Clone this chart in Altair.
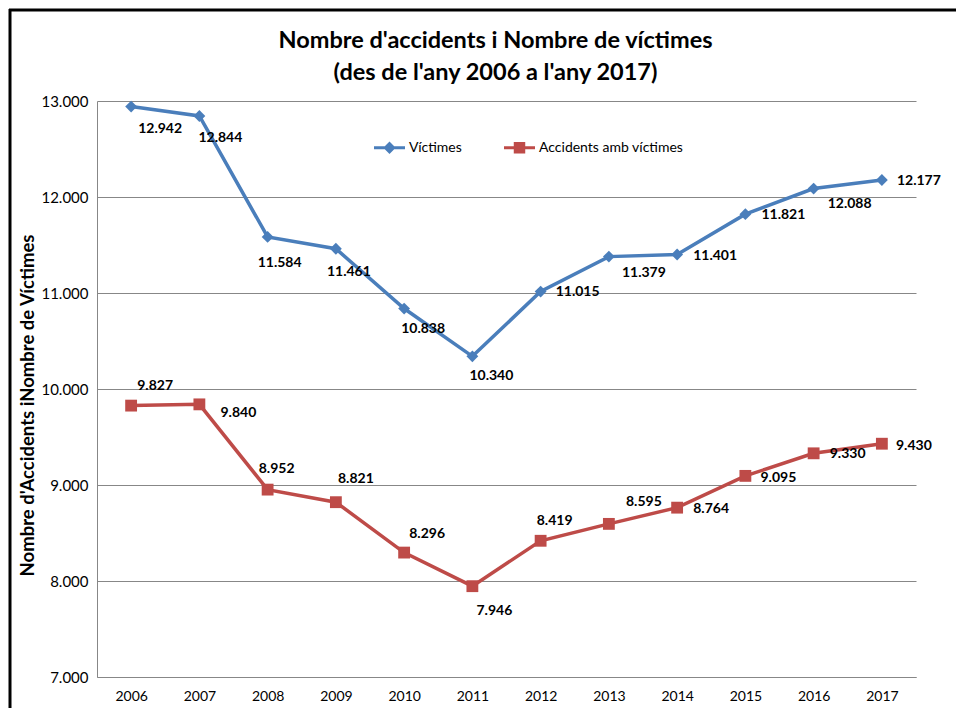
import altair as alt
import pandas as pd

# ---- data ----
anys = ["2006", "2007", "2008", "2009", "2010", "2011",
        "2012", "2013", "2014", "2015", "2016", "2017"]
victimes = [12942, 12844, 11584, 11461, 10838, 10340,
            11015, 11379, 11401, 11821, 12088, 12177]
accidents = [9827, 9840, 8952, 8821, 8296, 7946,
             8419, 8595, 8764, 9095, 9330, 9430]
series = ["Víctimes", "Accidents amb víctimes"]
y_ticks = [7000, 8000, 9000, 10000, 11000, 12000, 13000]

# ---- label placement (pixel offsets from each point) ----
victimes_dx = [29, 21, 12, 13, 19, 19, 37, 35, 38, 38, 36, 37]
victimes_dy = [22, 22, 26, 23, 20, 20, 0, 16, 1, 1, 15, 1]
accidents_dx = [24, 39, 9, 20, 23, 22, 14, 35, 34, 33, 34, 32]
accidents_dy = [-20, 9, -21, -23, -19, 25, -20, -22, 1, 2, 1, 2]

BLUE = "#4A7EBB"
RED = "#BE4B48"
GRID = "#878787"
FONT = "Lato"

rows = []
for i, a in enumerate(anys):
    rows.append(dict(any=a, serie=series[0], valor=victimes[i],
                     dx=victimes_dx[i], dy=victimes_dy[i]))
for i, a in enumerate(anys):
    rows.append(dict(any=a, serie=series[1], valor=accidents[i],
                     dx=accidents_dx[i], dy=accidents_dy[i]))
df = pd.DataFrame(rows)

W, H = 819, 576

x_enc = alt.X("any:O", sort=anys,
              scale=alt.Scale(type="point", padding=0.5),
              axis=alt.Axis(title=None, labelAngle=0, ticks=False, grid=False,
                            domainColor=GRID, domainWidth=1,
                            labelFont=FONT, labelFontSize=14, labelColor="black",
                            labelPadding=12))
y_enc = alt.Y("valor:Q",
              scale=alt.Scale(domain=[7000, 13000], nice=False, zero=False),
              axis=alt.Axis(values=y_ticks,
                            labelExpr="replace(format(datum.value, ','), ',', '.')",
                            ticks=False, grid=True, gridColor=GRID, gridWidth=1,
                            domainColor=GRID, domainWidth=1,
                            labelFont=FONT, labelFontSize=15, labelColor="black",
                            labelPadding=9,
                            title="Nombre d'Accidents iNombre de  Víctimes",
                            titleFont=FONT, titleFontSize=18.5, titleFontWeight="bold",
                            titleColor="black", titleAngle=270,
                            titleX=-70, titleY=304, titleAlign="center",
                            titleBaseline="middle"))

color_scale = alt.Scale(domain=series, range=[BLUE, RED])

base = alt.Chart(df)

lines = base.mark_line(strokeWidth=3.5).encode(
    x=x_enc, y=y_enc,
    color=alt.Color("serie:N", scale=color_scale, legend=None),
    detail="serie:N",
)

points = base.mark_point(filled=True, opacity=1, size=140).encode(
    x=x_enc, y=y_enc,
    color=alt.Color("serie:N", scale=color_scale, legend=None),
    shape=alt.Shape("serie:N", scale=alt.Scale(domain=series, range=["diamond", "square"]),
                    legend=None),
)

labels = base.transform_calculate(
    etiqueta="replace(format(datum.valor, ','), ',', '.')"
).mark_text(font=FONT, fontSize=14, fontWeight="bold", color="black",
            align="center", baseline="middle",
            dx=alt.ExprRef("datum.dx"), dy=alt.ExprRef("datum.dy")).encode(
    x=x_enc, y=y_enc,
    text="etiqueta:N",
)

# legend-only layer (no marks drawn, explicit domains)
diamond_sym = "M-1,-0.1H1V0.1H-1Z M0,-0.4L0.4,0L0,0.4L-0.4,0Z"
square_sym = "M-1,-0.1H1V0.1H-1Z M-0.37,-0.37H0.37V0.37H-0.37Z"
legend_layer = base.transform_filter("false").mark_point(filled=True, opacity=1).encode(
    x=x_enc, y=y_enc,
    color=alt.Color("serie:N", scale=alt.Scale(domain=series, range=[BLUE, RED]),
                    legend=alt.Legend(title=None)),
    shape=alt.Shape("serie:N", scale=alt.Scale(domain=series, range=[diamond_sym, square_sym]),
                    legend=alt.Legend(title=None)),
)

frame_df = pd.DataFrame({"k": [0]})
frame_top = alt.Chart(frame_df).mark_rule(color="black", strokeWidth=3).encode(
    x=alt.value(-88), x2=alt.value(860), y=alt.value(-91))
frame_left = alt.Chart(frame_df).mark_rule(color="black", strokeWidth=3).encode(
    x=alt.value(-87), y=alt.value(-92), y2=alt.value(610))

chart = alt.layer(
    lines, points, labels, legend_layer, frame_top, frame_left
).resolve_scale(
    color="independent", shape="independent"
).properties(
    width=W, height=H,
    autosize=alt.AutoSizeParams(type="none"),
    padding={"left": 89, "top": 93, "right": 40, "bottom": 31},
    title=alt.TitleParams(
        text=["Nombre d'accidents i Nombre de víctimes",
              "(des de l'any 2006 a l'any 2017)"],
        font=FONT, fontSize=23.5, fontWeight="bold", color="black",
        lineHeight=32, anchor="middle", frame="group", dx=-11, offset=-77),
).configure_view(
    stroke=None
).configure_legend(
    orient="none", legendX=277, legendY=31, direction="horizontal",
    symbolSize=961, symbolStrokeWidth=0, labelFont=FONT, labelFontSize=14,
    labelColor="black", labelOffset=4, columnPadding=42, padding=0,
)

chart.save("out.html", embed_options={"renderer": "svg", "actions": False})
